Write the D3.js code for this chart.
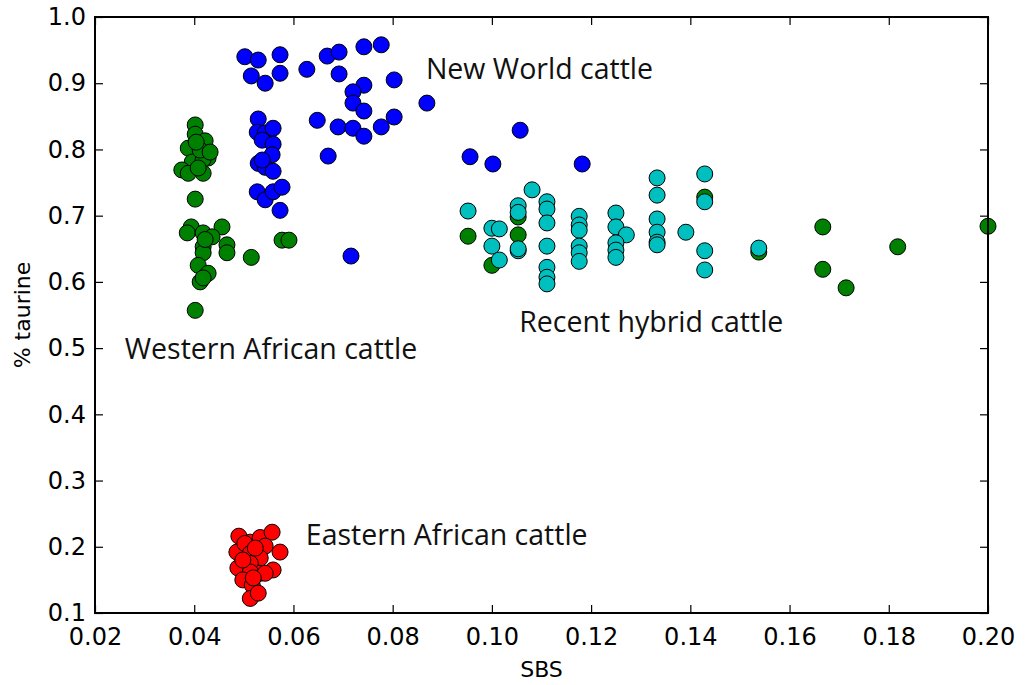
<!DOCTYPE html>
<html>
<head>
<meta charset="utf-8">
<script src="https://cdn.jsdelivr.net/npm/d3@7"></script>
<style>
  body { margin: 0; background: #fff; }
  .tick text { font-family: "DejaVu Sans", sans-serif; font-size: 24px; fill: #000; }
  .note { font-family: "Open Sans", sans-serif; font-size: 28.5px; fill: #111; }
  .axlabel { font-family: "DejaVu Sans", sans-serif; font-size: 22px; fill: #000; }
</style>
</head>
<body>
<script>
// SBS / % taurine per group
const newWorldSBS = [0.0502,0.0529,0.0573,0.0515,0.0543,0.0573,0.0627,0.0668,0.0692,0.0742,0.0777,0.0692,0.0803,0.0742,0.0720,0.0720,0.0742,0.0648,0.0690,0.0720,0.0742,0.0777,0.0803,0.0869,0.0670,0.0716,
  0.0529,0.0527,0.0543,0.0559,0.0537,0.0559,0.0557,0.0529,0.0543,0.0559,0.0537,0.0527,0.0543,0.0559,0.0577,0.0573,0.0956,0.1002,0.1057,0.1182];
const newWorldTaurine = [0.940,0.935,0.943,0.911,0.900,0.915,0.921,0.941,0.947,0.955,0.958,0.914,0.905,0.897,0.887,0.870,0.858,0.844,0.834,0.832,0.820,0.834,0.849,0.870,0.790,0.639,
  0.846,0.826,0.825,0.832,0.814,0.808,0.792,0.779,0.773,0.767,0.784,0.736,0.724,0.736,0.743,0.708,0.789,0.778,0.829,0.778];

const westAfricaSBS = [0.0402,0.0402,0.0422,0.0388,0.0428,0.0396,0.0418,0.0375,0.0388,0.0418,0.0408,0.0402,0.0412,0.0432,0.0404,
  0.0394,0.0386,0.0418,0.0456,0.0436,0.0418,0.0418,0.0466,0.0466,0.0515,0.0408,0.0428,0.0412,0.0402,0.0577,0.0591,0.0422,0.0418,
  0.0952,0.1000,0.1053,0.1053,0.1429,0.1538,0.1667,0.1667,0.1714,0.1818,0.2000];
const westAfricaTaurine = [0.837,0.823,0.813,0.802,0.787,0.781,0.785,0.769,0.764,0.764,0.772,0.725,0.799,0.796,0.811,
  0.683,0.674,0.674,0.683,0.668,0.653,0.644,0.656,0.644,0.637,0.625,0.613,0.600,0.557,0.663,0.663,0.664,0.606,
  0.669,0.625,0.698,0.671,0.728,0.645,0.683,0.619,0.591,0.653,0.684];

const eastAfricaSBS = [0.0490,0.0513,0.0533,0.0557,0.0486,0.0502,0.0543,0.0573,0.0513,0.0533,0.0488,0.0513,0.0559,0.0533,0.0513,0.0498,0.0517,0.0513,0.0529,0.0543,0.0519,0.0523,0.0498];
const eastAfricaTaurine = [0.216,0.207,0.214,0.222,0.192,0.205,0.201,0.192,0.190,0.183,0.168,0.175,0.165,0.160,0.162,0.150,0.142,0.122,0.130,0.160,0.153,0.198,0.180];

const hybridSBS = [0.1081,0.0952,0.1053,0.1053,0.1000,0.1015,0.1000,0.1015,0.1053,0.1053,
  0.1111,0.1111,0.1111,0.1111,0.1111,0.1111,0.1111,
  0.1176,0.1176,0.1176,0.1176,0.1176,0.1176,
  0.1250,0.1250,0.1271,0.1250,0.1250,0.1250,
  0.1333,0.1333,0.1333,0.1333,0.1333,0.1333,0.1391,
  0.1429,0.1429,0.1429,0.1429,0.1538];
const hybridTaurine = [0.739,0.707,0.715,0.705,0.681,0.680,0.654,0.633,0.647,0.650,
  0.721,0.710,0.689,0.654,0.622,0.607,0.597,
  0.699,0.686,0.678,0.654,0.644,0.631,
  0.704,0.683,0.671,0.659,0.648,0.637,
  0.757,0.731,0.695,0.675,0.660,0.656,0.675,
  0.763,0.721,0.647,0.618,0.651];

const xTicks = [0.02,0.04,0.06,0.08,0.10,0.12,0.14,0.16,0.18,0.20];
const yTicks = [0.1,0.2,0.3,0.4,0.5,0.6,0.7,0.8,0.9,1.0];

const groups = [
  {sbs: westAfricaSBS, taurine: westAfricaTaurine, color: "#008000"},
  {sbs: newWorldSBS, taurine: newWorldTaurine, color: "#0000ff"},
  {sbs: eastAfricaSBS, taurine: eastAfricaTaurine, color: "#ff0000"},
  {sbs: hybridSBS, taurine: hybridTaurine, color: "#00bfbf"}
];

const notes = [
  {text: "New World cattle", x: 0.0867, y: 0.906},
  {text: "Western African cattle", x: 0.0260, y: 0.483},
  {text: "Recent hybrid cattle", x: 0.1055, y: 0.524},
  {text: "Eastern African cattle", x: 0.0625, y: 0.203}
];

const width = 1026, height = 685;
const mLeft = 95, mRight = 988, mTop = 17, mBottom = 613;

const x = d3.scaleLinear().domain([0.02, 0.2]).range([mLeft, mRight]);
const y = d3.scaleLinear().domain([0.1, 1.0]).range([mBottom, mTop]);

const svg = d3.select("body").append("svg")
    .attr("width", width)
    .attr("height", height);

// points
groups.forEach(g => {
  svg.append("g")
    .selectAll("circle")
    .data(g.sbs.map((s, i) => [s, g.taurine[i]]))
    .join("circle")
    .attr("cx", d => x(d[0]))
    .attr("cy", d => y(d[1]))
    .attr("r", 8)
    .attr("fill", g.color)
    .attr("stroke", "#000")
    .attr("stroke-width", 1);
});

// axes, ticks pointing inward
const styleAxis = sel => {
  sel.select(".domain").remove();
  sel.selectAll(".tick line").attr("stroke", "#000").attr("stroke-width", 1.2);
};

svg.append("g")
  .attr("transform", `translate(0,${mBottom})`)
  .call(d3.axisBottom(x).tickValues(xTicks).tickFormat(d3.format(".2f")).tickSize(-8).tickPadding(15))
  .call(styleAxis);
svg.append("g")
  .attr("transform", `translate(0,${mTop})`)
  .call(d3.axisTop(x).tickValues(xTicks).tickFormat("").tickSize(-8))
  .call(styleAxis);
svg.append("g")
  .attr("transform", `translate(${mLeft},0)`)
  .call(d3.axisLeft(y).tickValues(yTicks).tickFormat(d3.format(".1f")).tickSize(-8).tickPadding(9))
  .call(styleAxis);
svg.append("g")
  .attr("transform", `translate(${mRight},0)`)
  .call(d3.axisRight(y).tickValues(yTicks).tickFormat("").tickSize(-8))
  .call(styleAxis);

svg.append("rect")
  .attr("x", mLeft).attr("y", mTop)
  .attr("width", mRight - mLeft).attr("height", mBottom - mTop)
  .attr("fill", "none")
  .attr("stroke", "#000")
  .attr("stroke-width", 2);

svg.selectAll("text.note")
  .data(notes)
  .join("text")
  .attr("class", "note")
  .attr("x", d => x(d.x))
  .attr("y", d => y(d.y))
  .text(d => d.text);

svg.append("text")
  .attr("class", "axlabel")
  .attr("x", (mLeft + mRight) / 2)
  .attr("y", 677)
  .attr("text-anchor", "middle")
  .text("SBS");

svg.append("text")
  .attr("class", "axlabel")
  .attr("transform", `translate(30,${(mTop + mBottom) / 2}) rotate(-90)`)
  .attr("text-anchor", "middle")
  .text("% taurine");
</script>
</body>
</html>
